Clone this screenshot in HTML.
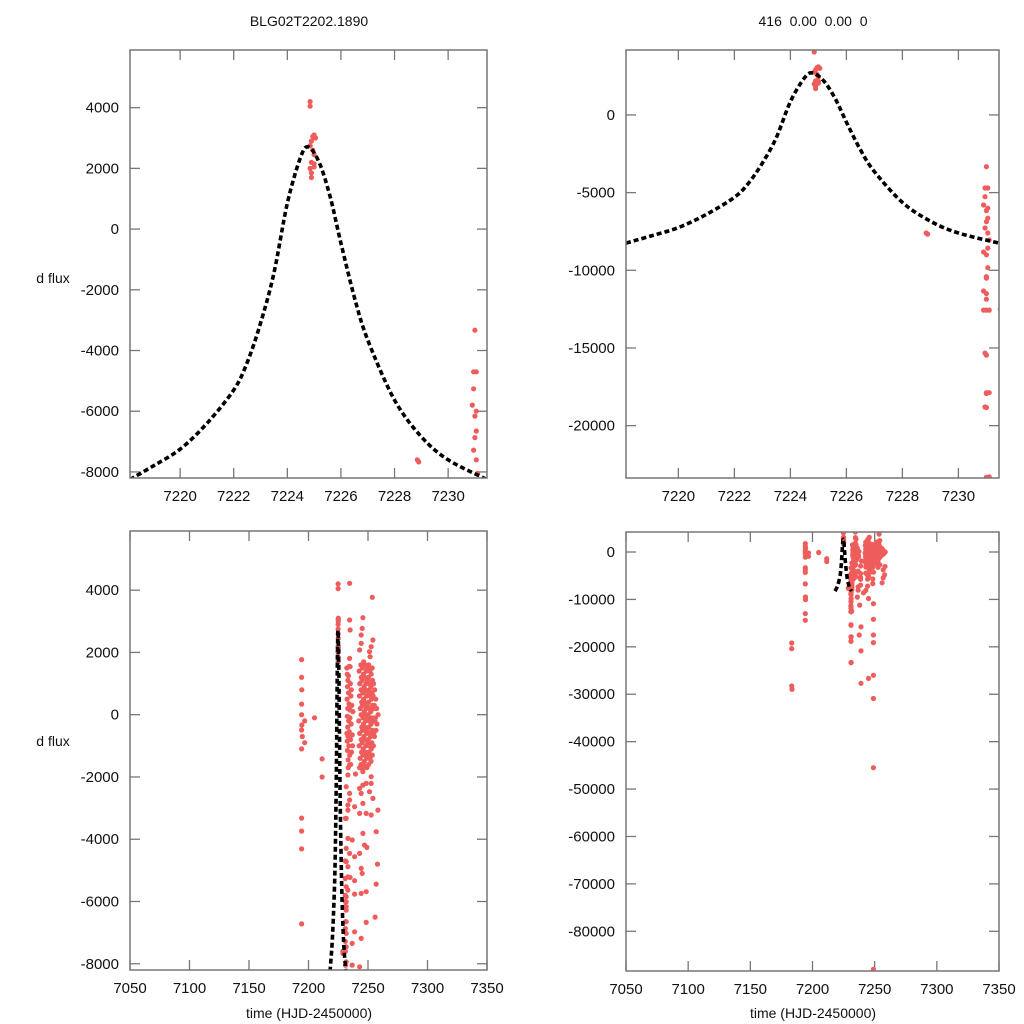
<!DOCTYPE html>
<html><head><meta charset="utf-8"><title>BLG02T2202.1890 light curve</title>
<style>
html,body{margin:0;padding:0;background:#fff;width:1024px;height:1024px;overflow:hidden;}
svg{display:block;font-family:"Liberation Sans",sans-serif;}
</style></head>
<body>
<svg id="chart" width="1024" height="1024" viewBox="0 0 1024 1024" xmlns="http://www.w3.org/2000/svg">
<rect width="1024" height="1024" fill="#fff"/>
<text x="309" y="26" font-size="14" text-anchor="middle" fill="#111">BLG02T2202.1890</text>
<text x="813" y="26" font-size="14" text-anchor="middle" fill="#111" xml:space="preserve">416  0.00  0.00  0</text>
<text x="53" y="283" font-size="14" text-anchor="middle" fill="#111">d flux</text>
<text x="53" y="746" font-size="14" text-anchor="middle" fill="#111">d flux</text>
<text x="309" y="1018" font-size="14" text-anchor="middle" fill="#111">time (HJD-2450000)</text>
<text x="813" y="1018" font-size="14" text-anchor="middle" fill="#111">time (HJD-2450000)</text>
</svg>
<script>
// ---- data ----
const modelTimes = [7218.13,7219,7220,7221,7222,7222.5,7223,7223.5,7224,7224.5,7224.8,7225.2,7225.6,7226,7226.5,7227,7228,7229,7230,7231.45];
const modelFlux  = [-8250,-7800,-7250,-6400,-5300,-4400,-3100,-1450,850,2380,2700,2170,1060,-460,-2240,-3650,-5630,-6840,-7600,-8250];

const earlyPoints = [[7183.3,-19190],[7183.3,-20380],[7183.3,-28260],[7183.5,-28960],
 [7194.2,1770],[7194.2,1200],[7194.4,800],[7194.2,340],[7194.2,0],[7194.4,-330],[7194.2,-490],[7194.8,-700],[7194.2,-1100],
 [7194.2,-3320],[7194.2,-3740],[7194.2,-4310],[7194.2,-6720],[7194.4,-9490],[7194.4,-10040],[7194.2,-12990],[7194.2,-14400],
 [7196.8,-200],[7196.8,-900],[7205,-100],[7211.4,-1420],[7211.4,-2000]];

const peakPoints = [[7224.85,4200],[7224.85,4050],[7225.0,3100],[7225.05,3000],[7224.95,3050],[7224.9,2900],[7224.85,2750],
 [7224.95,2600],[7225.0,2450],[7224.9,2200],[7225.0,2150],[7224.85,2000],[7224.9,1850],[7224.9,1700],[7225.0,2050]];

const tailPoints = [[7228.85,-7600],[7231.0,-3330],[7230.95,-4700],[7231.05,-4700],[7230.95,-5260],[7230.9,-5800],[7231.05,-6000],
 [7231.0,-6160],[7231.05,-6650],[7231.0,-6870],[7230.95,-7280],[7231.05,-7600],[7231.1,-8050],[7231.05,-8570],[7230.9,-8820],
 [7231.05,-9830],[7231.0,-10410],[7230.9,-11330],[7231.0,-11860],[7230.9,-12560],[7231.0,-12560],[7231.1,-12560],
 [7230.95,-15330],[7231.0,-17880],[7231.1,-17880],[7230.95,-18800],[7231.1,-23300]];

const upperPoints = [[7234.5,4219],[7253.6,3769],[7234.5,3040],[7235,2719],[7245.7,3115],[7245.1,2773],[7244.3,2559],[7254.1,2398],
 [7244.3,2291],[7252.7,2184],[7251.3,2023],[7251.8,1862],[7242.9,2077],[7234.5,1809],[7235,1541]];

const scatterPoints = [[7233.1,-1938],[7239.5,-1906],[7231.7,-2313],[7234.5,-2527],[7234.5,-2741],[7233.1,-2902],[7238.7,-2955],
 [7233.1,-3063],[7231.7,-3330],[7233.1,-3973],[7236.7,-4026],[7231.7,-4294],[7234.5,-4455],[7238.7,-4562],[7231.7,-4723],
 [7233.1,-4883],[7233.1,-5205],[7235,-5226],[7238.7,-5333],[7231.7,-5526],[7233.1,-5633],[7238.7,-5761],[7231.7,-5847],
 [7231.7,-6008],[7231.7,-6168],[7231.7,-6275],[7231.7,-6650],[7238.7,-6972],[7231.7,-7025],[7236.7,-7347],[7231.7,-7454],
 [7228.9,-7668],[7231.7,-7936],[7236.7,-8043],
 [7234.5,-1617],[7245.7,-1830],[7252.7,-1992],[7252.7,-2206],[7245.7,-2260],[7248.5,-2206],[7242.9,-2366],[7244.3,-2527],
 [7251.3,-2473],[7245.7,-2848],[7254.1,-2688],[7242.9,-3170],[7248.5,-3170],[7252.7,-3223],[7258.3,-3063],[7256.9,-3759],
 [7245.7,-3812],[7247.1,-4187],[7249.1,-4262],[7242.9,-4455],[7244.3,-4937],[7245.1,-5097],[7256.9,-5440],[7244.3,-5740],
 [7248.5,-5686],[7248.5,-6672],[7244.3,-7186],[7242.9,-8096]];

const deepPoints = [[7231,-9000],[7231,-10500],[7231,-11500],[7231.5,-12500],[7231,-15460],[7231,-17930],[7231,-18830],[7231,-23330],
 [7237.6,-17500],[7239,-15800],[7239,-20850],[7239,-27700],[7245,-26650],[7249,-10900],[7249,-14200],[7249,-17500],[7249,-19100],
 [7249,-26000],[7249,-30900],[7249,-45500],[7249,-88000],[7236,-9500],[7238,-11200],[7245,-9800],[7241,-8600],[7256,-6500],[7258,-4800]];

const denseA = [[7232.5,1300],[7233.1,1100],[7232.8,900],[7233.6,700],[7232.4,500],[7234.0,350],[7233.0,200],[7232.6,-50],
 [7233.8,-200],[7232.9,-400],[7234.3,-550],[7233.2,-700],[7232.5,-850],[7233.9,-1000],[7232.7,-1150],[7234.6,-1300],
 [7233.3,-1450],[7235.2,1000],[7235.6,600],[7235.0,150],[7235.8,-300],[7235.3,-800],[7236.1,-1200],[7236.4,300],[7236.0,800],
 [7234.9,-100],[7233.5,1250],[7232.3,-600],[7236.8,-650],[7237.3,100],[7237.0,-1000],[7232.2,1500],[7234.2,1550],
 [7233.4,-1700],[7235.5,-1600]];

const denseB = [[7242.5,1400],[7243.1,1000],[7242.8,600],[7243.5,200],[7242.3,-200],[7243.0,-600],[7242.6,-1000],[7243.4,-1400],[7242.9,-1700],
 [7244.0,1600],[7244.4,1200],[7244.1,800],[7244.7,400],[7244.2,0],[7244.8,-400],[7244.3,-800],[7244.6,-1200],[7244.1,-1600],
 [7245.3,1500],[7245.0,1100],[7245.6,700],[7245.2,300],[7245.8,-100],[7245.4,-500],[7245.1,-900],[7245.7,-1300],[7245.3,-1750],
 [7246.4,1700],[7246.1,1300],[7246.7,900],[7246.3,500],[7246.9,100],[7246.2,-300],[7246.6,-700],[7246.0,-1100],[7246.8,-1500],
 [7247.5,1600],[7247.2,1200],[7247.8,800],[7247.3,400],[7247.9,0],[7247.4,-400],[7247.1,-800],[7247.7,-1200],[7247.5,-1650],
 [7248.6,1400],[7248.3,1000],[7248.9,600],[7248.4,200],[7248.1,-200],[7248.7,-600],[7248.2,-1000],[7248.8,-1400],
 [7249.7,1500],[7249.4,1100],[7249.9,700],[7249.3,300],[7249.6,-100],[7249.2,-500],[7249.8,-900],[7249.5,-1300],[7249.1,-1700],
 [7250.6,1600],[7250.3,1200],[7250.9,800],[7250.4,400],[7250.1,0],[7250.7,-400],[7250.2,-800],[7250.8,-1200],[7250.5,-1600],
 [7251.6,1400],[7251.3,1000],[7251.9,600],[7251.4,200],[7251.1,-200],[7251.7,-600],[7251.2,-1000],[7251.8,-1400],
 [7252.7,1300],[7252.4,900],[7252.9,500],[7252.3,100],[7252.6,-300],[7252.2,-700],[7252.8,-1100],[7252.5,-1500],
 [7253.5,1500],[7253.8,1100],[7253.3,700],[7253.9,300],[7253.4,-100],[7253.7,-500],[7253.2,-900],[7253.6,-1300],
 [7254.6,1000],[7254.3,600],[7254.8,200],[7254.4,-200],[7254.9,-600],[7254.5,-1000],
 [7255.6,800],[7255.3,300],[7255.8,-200],[7255.4,-700],[7256.5,500],[7256.2,-100],[7256.7,-500],[7257.2,200],[7257.6,-300],[7258.5,0]];

const topXTicks = [7220,7222,7224,7226,7228,7230];
const bottomXTicks = [7050,7100,7150,7200,7250,7300,7350];
const leftYTicks = [-8000,-6000,-4000,-2000,0,2000,4000];
const topRightYTicks = [-20000,-15000,-10000,-5000,0];
const bottomRightYTicks = [-80000,-70000,-60000,-50000,-40000,-30000,-20000,-10000,0];

// ---- drawing ----
const NS = "http://www.w3.org/2000/svg";
const svg = document.getElementById("chart");
const allPoints = [].concat(earlyPoints, peakPoints, tailPoints, upperPoints, scatterPoints, deepPoints, denseA, denseB);

const panels = [
 {id:"top-left", x0:130, x1:487, y0:50, y1:478, xd:[7218.13,7231.45], yd:[-8200,5900], xt:topXTicks, yt:leftYTicks},
 {id:"top-right", x0:626, x1:999, y0:50, y1:478, xd:[7218.13,7231.45], yd:[-23370,4180], xt:topXTicks, yt:topRightYTicks},
 {id:"bottom-left", x0:130, x1:487, y0:531, y1:970, xd:[7050,7350], yd:[-8200,5900], xt:bottomXTicks, yt:leftYTicks},
 {id:"bottom-right", x0:626, x1:999, y0:532, y1:971, xd:[7050,7350], yd:[-88370,4220], xt:bottomXTicks, yt:bottomRightYTicks}
];

function mk(tag, attrs, parent){
  const e = document.createElementNS(NS, tag);
  for (const k in attrs) e.setAttribute(k, attrs[k]);
  (parent || svg).appendChild(e);
  return e;
}

panels.forEach(function(p){
  const xs = function(t){ return p.x0 + (t - p.xd[0]) / (p.xd[1] - p.xd[0]) * (p.x1 - p.x0); };
  const ys = function(f){ return p.y1 - (f - p.yd[0]) / (p.yd[1] - p.yd[0]) * (p.y1 - p.y0); };
  const g = mk("g", {});
  
  
  const cp = mk("clipPath", {id:"clip-" + p.id}, g);
  mk("rect", {x:p.x0, y:p.y0, width:p.x1 - p.x0, height:p.y1 - p.y0}, cp);

  p.xt.forEach(function(v){
    const x = xs(v);
    const t1 = mk("line", {x1:x, x2:x, y1:p.y1, y2:p.y1 - 10, stroke:"#777", "stroke-width":1.3}, g);
    
    
    mk("line", {x1:x, x2:x, y1:p.y0, y2:p.y0 + 10, stroke:"#777", "stroke-width":1.3}, g);
    const lb = mk("text", {x:x, y:p.y1 + 23, "font-size":15, "text-anchor":"middle", fill:"#111"}, g);
    
    
    lb.textContent = String(v);
  });
  p.yt.forEach(function(v){
    const y = ys(v);
    const t2 = mk("line", {x1:p.x0, x2:p.x0 + 10, y1:y, y2:y, stroke:"#777", "stroke-width":1.3}, g);
    
    
    mk("line", {x1:p.x1, x2:p.x1 - 10, y1:y, y2:y, stroke:"#777", "stroke-width":1.3}, g);
    const lb = mk("text", {x:p.x0 - 11, y:y + 5, "font-size":15, "text-anchor":"end", fill:"#111"}, g);
    
    
    lb.textContent = String(v);
  });

  const dg = mk("g", {"clip-path":"url(#clip-" + p.id + ")", fill:"#ee5c5c"}, g);
  
  
  const tmin = p.xd[0] - 0.01 * (p.xd[1] - p.xd[0]), tmax = p.xd[1] + 0.01 * (p.xd[1] - p.xd[0]);
  const fmin = p.yd[0] - 0.01 * (p.yd[1] - p.yd[0]), fmax = p.yd[1] + 0.01 * (p.yd[1] - p.yd[0]);
  allPoints.forEach(function(pt){
    if (pt[0] < tmin || pt[0] > tmax || pt[1] < fmin || pt[1] > fmax) return;
    const c = mk("circle", {cx:xs(pt[0]).toFixed(1), cy:ys(pt[1]).toFixed(1), r:2.6}, dg);
    
    
  });

  let d = "";
  for (let i = 0; i < modelTimes.length; i++){
    const x = xs(modelTimes[i]), y = ys(modelFlux[i]);
    if (i === 0) { d += "M" + x.toFixed(1) + "," + y.toFixed(1); continue; }
    const x0 = xs(modelTimes[i-1]), y0 = ys(modelFlux[i-1]);
    const xm1 = xs(modelTimes[Math.max(i-2,0)]), ym1 = ys(modelFlux[Math.max(i-2,0)]);
    const xp1 = xs(modelTimes[Math.min(i+1,modelTimes.length-1)]), yp1 = ys(modelFlux[Math.min(i+1,modelTimes.length-1)]);
    const c1x = x0 + (x - xm1) / 6, c1y = y0 + (y - ym1) / 6;
    const c2x = x - (xp1 - x0) / 6, c2y = y - (yp1 - y0) / 6;
    d += " C" + c1x.toFixed(1) + "," + c1y.toFixed(1) + " " + c2x.toFixed(1) + "," + c2y.toFixed(1) + " " + x.toFixed(1) + "," + y.toFixed(1);
  }
  const ml = mk("path", {d:d, fill:"none", stroke:"#000", "stroke-width":3.6, "stroke-dasharray":"5 3", "clip-path":"url(#clip-" + p.id + ")"}, g);
  
  

  const fr = mk("rect", {x:p.x0, y:p.y0, width:p.x1 - p.x0, height:p.y1 - p.y0, fill:"none", stroke:"#777", "stroke-width":1.5}, g);
  
  
});
</script>
</body></html>
